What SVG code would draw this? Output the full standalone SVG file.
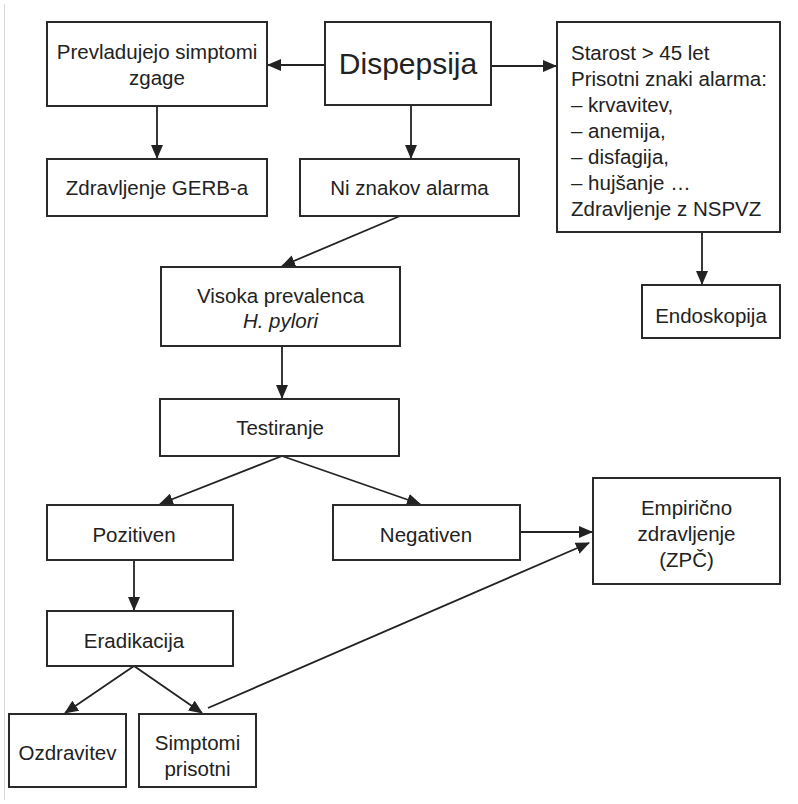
<svg xmlns="http://www.w3.org/2000/svg" width="798" height="804" viewBox="0 0 798 804">
<style>
.box{fill:#fff;stroke:#2a2a2a;stroke-width:2}
.t{font-family:"Liberation Sans",Arial,Helvetica,sans-serif;font-size:20.5px;fill:#222;text-anchor:middle}
.l{text-anchor:start}
.c{stroke:#222;stroke-width:1.8;fill:none;marker-end:url(#ah)}
</style>
<defs>
<marker id="ah" markerUnits="userSpaceOnUse" markerWidth="14" markerHeight="12" refX="13" refY="6" orient="auto">
<path d="M0,0 L14,6 L0,12 z" fill="#222"/>
</marker>
</defs>
<rect width="798" height="804" fill="#fff"/>
<line x1="4.5" y1="4" x2="4.5" y2="800" stroke="#d8d8d8" stroke-width="1"/>
<g id="connectors">
<line class="c" x1="325" y1="65" x2="268" y2="65"/>
<line class="c" x1="491" y1="66" x2="556" y2="66"/>
<line class="c" x1="157" y1="106" x2="157" y2="158"/>
<line class="c" x1="411" y1="105" x2="411" y2="158"/>
<line class="c" x1="702" y1="232" x2="702" y2="284"/>
<line class="c" x1="400" y1="216" x2="282" y2="266"/>
<line class="c" x1="282" y1="346" x2="282" y2="398"/>
<line class="c" x1="282" y1="456" x2="160" y2="504"/>
<line class="c" x1="282" y1="456" x2="420" y2="504"/>
<line class="c" x1="520" y1="532" x2="592" y2="532"/>
<line class="c" x1="134" y1="560" x2="134" y2="610"/>
<line class="c" x1="134" y1="666" x2="65" y2="713"/>
<line class="c" x1="134" y1="666" x2="202" y2="713"/>
<line class="c" x1="208" y1="708" x2="589" y2="543"/>
</g>
<g id="dispepsija">
<rect class="box" x="325" y="22" width="166" height="83"/>
<text class="t" x="408" y="74" style="font-size:30px">Dispepsija</text>
</g>
<g id="zgaga">
<rect class="box" x="47" y="22" width="220" height="84"/>
<text class="t" x="157" y="59">Prevladujejo simptomi</text>
<text class="t" x="157" y="85">zgage</text>
</g>
<g id="gerb">
<rect class="box" x="47" y="159" width="220" height="57"/>
<text class="t" x="157" y="195">Zdravljenje GERB-a</text>
</g>
<g id="niznakov">
<rect class="box" x="300" y="159" width="219" height="57"/>
<text class="t" x="409.5" y="195">Ni znakov alarma</text>
</g>
<g id="starost">
<rect class="box" x="557" y="22" width="223" height="210"/>
<text class="t l" x="571" y="60">Starost &gt; 45 let</text>
<text class="t l" x="571" y="86">Prisotni znaki alarma:</text>
<text class="t l" x="571" y="112">– krvavitev,</text>
<text class="t l" x="571" y="138">– anemija,</text>
<text class="t l" x="571" y="164">– disfagija,</text>
<text class="t l" x="571" y="190">– hujšanje …</text>
<text class="t l" x="571" y="216">Zdravljenje z NSPVZ</text>
</g>
<g id="endoskopija">
<rect class="box" x="642" y="285" width="138" height="53"/>
<text class="t" x="711" y="323">Endoskopija</text>
</g>
<g id="visoka">
<rect class="box" x="161" y="267" width="239" height="79"/>
<text class="t" x="280.5" y="303">Visoka prevalenca</text>
<text class="t" x="280.5" y="328" font-style="italic">H. pylori</text>
</g>
<g id="testiranje">
<rect class="box" x="160" y="399" width="239" height="57"/>
<text class="t" x="280" y="435">Testiranje</text>
</g>
<g id="pozitiven">
<rect class="box" x="47" y="505" width="186" height="55"/>
<text class="t" x="134" y="542">Pozitiven</text>
</g>
<g id="negativen">
<rect class="box" x="333" y="505" width="187" height="55"/>
<text class="t" x="426" y="542">Negativen</text>
</g>
<g id="zpc">
<rect class="box" x="593" y="478" width="187" height="106"/>
<text class="t" x="686.5" y="515">Empirično</text>
<text class="t" x="686.5" y="541">zdravljenje</text>
<text class="t" x="686.5" y="567">(ZPČ)</text>
</g>
<g id="eradikacija">
<rect class="box" x="47" y="611" width="186" height="55"/>
<text class="t" x="134" y="648">Eradikacija</text>
</g>
<g id="ozdravitev">
<rect class="box" x="9" y="714" width="117" height="73"/>
<text class="t" x="67.5" y="760">Ozdravitev</text>
</g>
<g id="simptomi">
<rect class="box" x="139" y="714" width="117" height="73"/>
<text class="t" x="197.5" y="750">Simptomi</text>
<text class="t" x="197.5" y="776">prisotni</text>
</g>
</svg>
